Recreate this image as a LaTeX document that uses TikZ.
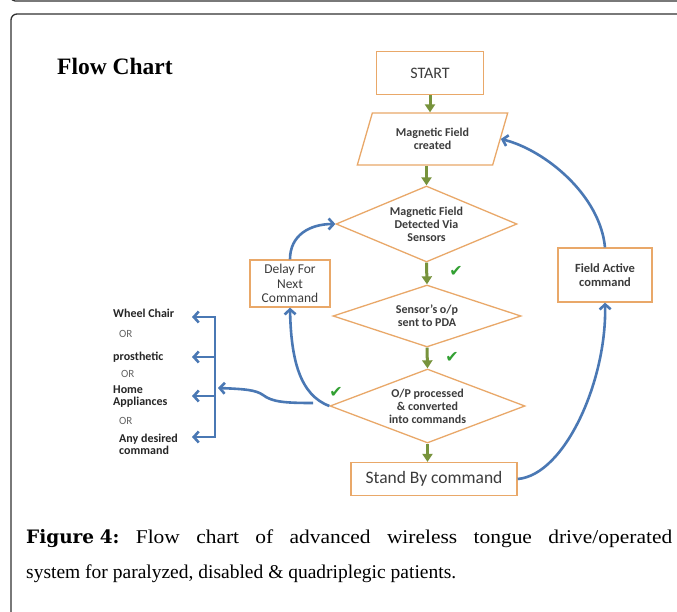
\documentclass[tikz,border=0pt]{standalone}
\usepackage{fontspec}
\setmainfont{Liberation Serif}
\newfontfamily\chartfont{Carlito}
\newfontfamily\symfont{DejaVu Sans}
\newfontfamily\capwide[FakeStretch=1.1]{Liberation Serif}
\newfontfamily\capbold{DejaVu Serif}
\usetikzlibrary{shapes.geometric,arrows.meta}
\definecolor{boxorange}{RGB}{233,168,105}
\definecolor{arrowgreen}{RGB}{119,147,60}
\definecolor{arrowblue}{RGB}{74,120,180}
\definecolor{checkgreen}{RGB}{50,160,50}
\definecolor{chartgray}{RGB}{60,60,60}
\definecolor{framegray}{RGB}{50,50,50}
\definecolor{orgray}{RGB}{100,100,100}
\tikzset{
  box/.style={draw=boxorange, line width=1.3pt, inner sep=0pt, text=chartgray, align=center},
  boldtxt/.style={font=\chartfont\bfseries\fontsize{12}{13}\selectfont},
  garrow/.style={draw=arrowgreen, line width=3pt, -{Triangle[length=8pt,width=10pt]}},
  barrow/.style={draw=arrowblue, line width=2.6pt, -{Straight Barb[length=5pt,width=11pt]}},
  lbl/.style={anchor=west, inner sep=0pt, text=black!85, align=left, font=\chartfont\bfseries\fontsize{12}{12.5}\selectfont},
  orlbl/.style={anchor=west, inner sep=0pt, text=orgray, font=\chartfont\fontsize{11}{11}\selectfont},
  check/.style={font=\symfont\fontsize{16}{16}\selectfont, text=checkgreen, inner sep=0pt},
  frame/.style={draw=framegray, line width=1.3pt}
}
\begin{document}
\begin{tikzpicture}[x=1pt,y=-1pt]
\clip (0,0) rectangle (677,612);
\fill[white] (0,0) rectangle (677,612);
% frames
\draw[frame, rounded corners=4pt] (11,-20) -- (11,1) -- (700,1);
\draw[frame, rounded corners=6pt] (11,700) -- (11,14) -- (700,14);
% title
\node[anchor=base west, inner sep=0pt, font=\bfseries\fontsize{23.5}{25}\selectfont] (title) at (57,75) {Flow Chart};
% main nodes
\node[box, minimum width=107pt, minimum height=43pt, font=\chartfont\fontsize{16}{17}\selectfont] (start) at (430,73) {START};
\node[box, boldtxt, trapezium, trapezium left angle=67, trapezium right angle=113, trapezium stretches=true, minimum width=151pt, minimum height=52pt] (par) at (432.5,139) {Magnetic Field\\created};
\node[box, boldtxt, diamond, aspect=2.4, minimum width=181pt, minimum height=76pt] (d1) at (426.5,224) {Magnetic Field\\Detected Via\\Sensors};
\node[box, boldtxt, diamond, aspect=3, minimum width=188pt, minimum height=62pt] (d2) at (427,316) {Sensor’s o/p\\sent to PDA};
\node[box, boldtxt, diamond, aspect=2.6, minimum width=195pt, minimum height=74pt] (d3) at (427.5,406) {O/P processed\\\& converted\\into commands};
\node[box, minimum width=166pt, minimum height=33pt, font=\chartfont\fontsize{17.5}{19}\selectfont] (sb) at (434,479) {Stand By command};
\node[box, minimum width=94pt, minimum height=54pt, font=\chartfont\bfseries\fontsize{12.5}{14}\selectfont] (fa) at (605,275) {Field Active\\command};
\node[box, minimum width=80pt, minimum height=47pt, font=\chartfont\fontsize{13.5}{14.5}\selectfont] (dl) at (290,283.5) {Delay For\\Next\\Command};
% green arrows
\draw[garrow] (start.south) -- (start.south |- par.north);
\draw[garrow] (d1.north |- par.south) -- (d1.north);
\draw[garrow] (d1.south) -- (d2.north);
\draw[garrow] (d2.south) -- (d3.north);
\draw[garrow] (d3.south) -- (d3.south |- sb.north);
% check marks
\node[check] (ck1) at (456,271) {✔};
\node[check] (ck2) at (452,357) {✔};
\node[check] (ck3) at (336,392) {✔};
% blue curved arrows
\draw[barrow] (fa.north) .. controls (600,195) and (545,150) .. (par.east);
\draw[barrow] (sb.east) .. controls (565,475) and (607,380) .. (fa.south);
\draw[barrow] (dl.north) .. controls (290,235) and (310,224) .. (d1.west);
\draw[barrow] (d3.west) .. controls (300,395) and (291,360) .. (dl.south);
% bracket
\coordinate (b1) at (215,317);
\coordinate (b2) at (215,357);
\coordinate (b3) at (215,396);
\coordinate (b4) at (215,437);
\coordinate (t1) at (192,317);
\coordinate (t2) at (192,357);
\coordinate (t3) at (192,396);
\coordinate (t4) at (192,437);
\coordinate (c0) at (313,403);
\coordinate (cin) at (218,388);
\draw[barrow, {Straight Barb[length=5pt,width=11pt]}-{Straight Barb[length=5pt,width=11pt]}, line join=miter] (t1) -- (b1) -- (b4) -- (t4);
\draw[barrow] (b2) -- (t2);
\draw[barrow] (b3) -- (t3);
\draw[barrow] (c0) .. controls (285,403) and (272,402) .. (263,395) .. controls (256,390) and (245,389) .. (cin);
% left labels
\node[lbl] (wc) at (113,313) {Wheel Chair};
\node[orlbl] (or1) at (119,334) {OR};
\node[lbl] (pr) at (113,357) {prosthetic};
\node[orlbl] (or2) at (121,374) {OR};
\node[lbl] (ha) at (113,396.5) {Home\\Appliances};
\node[orlbl] (or3) at (119,421) {OR};
\node[lbl] (ad) at (119,444.5) {Any desired\\command};
% caption
\node[anchor=base west, inner sep=0pt, font=\frenchspacing\capwide\fontsize{19.5}{22}\selectfont] (cap1) at (26,543) {\makebox[646pt][s]{{\capbold\bfseries\fontsize{18.5}{22}\selectfont Figure\kern0.3em4:} Flow chart of advanced wireless tongue drive/operated}};
\node[anchor=base west, inner sep=0pt, font=\frenchspacing\fontsize{19.5}{22}\selectfont] (cap2) at (26,578) {system for paralyzed, disabled \& quadriplegic patients.};
\end{tikzpicture}
\end{document}
